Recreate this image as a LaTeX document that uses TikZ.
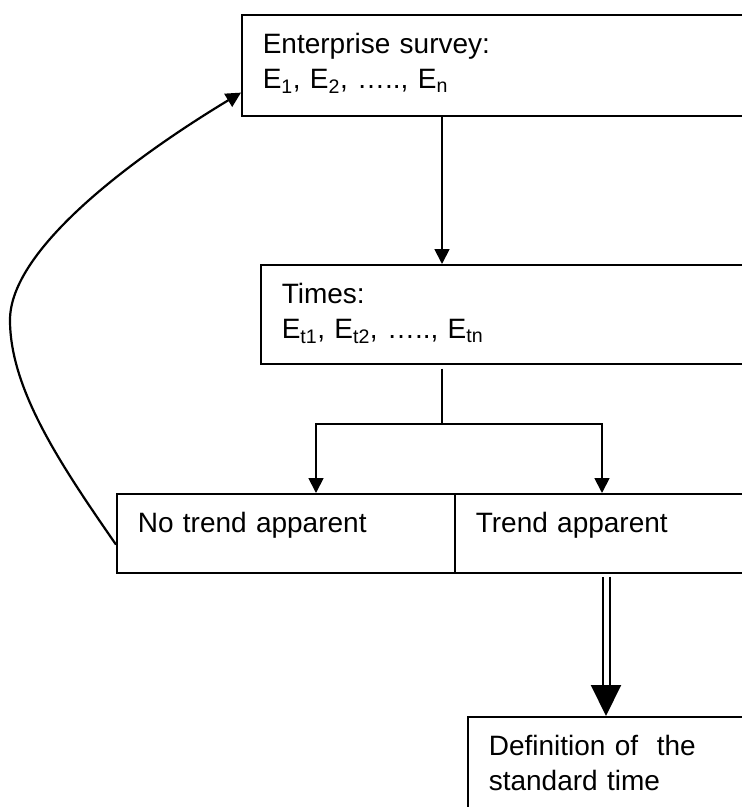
\documentclass[tikz,border=0pt]{standalone}
\usepackage{fontspec}
\setmainfont{Liberation Sans}
\usetikzlibrary{arrows.meta}

\tikzset{
  box/.style={draw, line width=1.6pt, anchor=north west, align=left, inner xsep=21pt, inner ysep=19pt, text height=20pt, font=\fontsize{28}{35}\selectfont},
  flow/.style={line width=1.8pt, -{Triangle[length=15pt,width=15pt]}},
  stub/.style={line width=1.8pt},
  twin/.style={double, double distance=5pt, line width=2pt, -{Triangle[length=31pt,width=30pt]}}
}

\begin{document}
\begin{tikzpicture}[x=1pt, y=-1pt]
        \useasboundingbox (0,0) rectangle (742,807);
        \clip (0,0) rectangle (742,807);

        \node[box, text width=497pt, text depth=43pt] (survey) at (241,14) {Enterprise survey:\\E\textsubscript{1}, E\textsubscript{2}, ….., E\textsubscript{n}};
        \node[box, text width=478pt, text depth=41pt] (times) at (260,264) {Times:\\E\textsubscript{t1}, E\textsubscript{t2}, ….., E\textsubscript{tn}};
        \node[box, text width=296pt, text depth=21pt] (notrend) at (116,493) {No trend apparent};
        \node[box, text width=284pt, text depth=21pt] (trend) at (454,493) {Trend apparent};
        \node[box, text width=271pt, text depth=43pt] (def) at (467,716) {Definition of \ the\\standard time};

        \coordinate (trunk) at (442,0);
        \coordinate (split) at (442,424);
        \coordinate (lft) at (316,0);
        \coordinate (rgt) at (602,0);
        \coordinate (dbl) at (606,0);
        \coordinate (loop) at (10,320);

        \draw[flow] (survey.south -| trunk) -- (times.north -| trunk);
        \draw[stub] (times.south -| trunk) ++(0,4) -- (split);
        \draw[flow] (split) -| (lft |- notrend.north);
        \draw[flow] (split) -| (rgt |- trend.north);
        \draw[twin] (trend.south -| dbl) ++(0,3) -- (def.north -| dbl);
        \draw[flow, line width=2.2pt] (notrend.south west) ++(0,-29) .. controls +(-54,-78) and +(0,70) .. (loop) .. controls +(0,-70) and +(-111,67) .. ([yshift=24pt]survey.south west);
      \end{tikzpicture}
\end{document}
